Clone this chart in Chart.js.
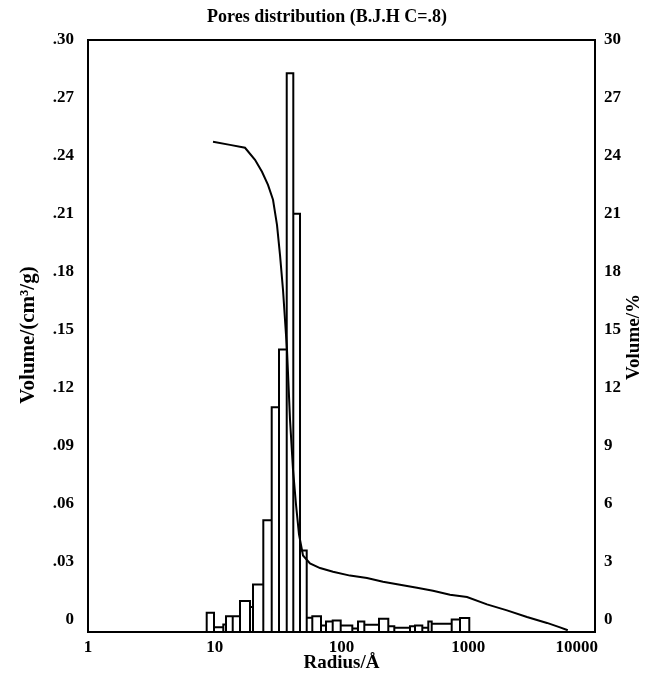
<!DOCTYPE html>
<html><head><meta charset="utf-8">
<script src="https://cdn.jsdelivr.net/npm/chart.js@4.4.1/dist/chart.umd.min.js"></script>
<style>html,body{margin:0;padding:0;background:#fff}</style>
</head><body>
<canvas id="c" width="654" height="676"></canvas>
<script>
// ---- data ----
const binEdges = [8.64, 9.87, 11.68, 12.27, 13.86, 15.82, 18.97, 20.04, 24.16, 28.14, 32.13, 36.97, 41.66, 47.06, 53.15, 58.84, 68.92, 75.45, 85.22, 98.56, 121.7, 134.9, 151.4, 197.6, 234.0, 261.0, 347.1, 380.2, 434.0, 484.0, 514.8, 740.3, 860.7, 1019];
const binVolume = [0.0035, -0.0040, -0.0026, 0.0017, 0.0017, 0.0095, 0.0064, 0.0181, 0.0514, 0.1098, 0.1397, 0.2828, 0.2100, 0.0357, 0.0009, 0.0017, -0.0031, -0.0010, -0.0005, -0.0031, -0.0047, -0.0010, -0.0027, 0.0004, -0.0035, -0.0043, -0.0035, -0.0031, -0.0043, -0.0010, -0.0022, 0.0000, 0.0008];
const curveRadius = [9.69, 13.19, 17.33, 20.78, 23.59, 26.31, 28.82, 30.98, 32.72, 34.55, 35.83, 37.15, 39.24, 41.44, 43.75, 46.2, 49.7, 56.4, 67.7, 85.7, 116.7, 158.9, 212.5, 289.4, 394.1, 527.2, 717.8, 977.5, 1406, 2022, 2907, 4181, 5297, 6100];
const curvePercent = [24.73, 24.57, 24.42, 23.80, 23.18, 22.50, 21.73, 20.43, 18.88, 17.07, 15.52, 13.97, 10.35, 7.76, 5.95, 4.40, 3.31, 2.90, 2.66, 2.47, 2.27, 2.15, 1.95, 1.80, 1.64, 1.49, 1.28, 1.16, 0.78, 0.47, 0.13, -0.18, -0.41, -0.56];
const xTicks = [1, 10, 100, 1000, 10000];
const yTicks = [0, 0.03, 0.06, 0.09, 0.12, 0.15, 0.18, 0.21, 0.24, 0.27, 0.30];
const y1Ticks = [0, 3, 6, 9, 12, 15, 18, 21, 24, 27, 30];
const yRange = [-0.0065, 0.30];
const y1Range = [-0.65, 30];

const titleText = 'Pores distribution (B.J.H C=.8)';
const xTitle = 'Radius/Å';
const yTitle = 'Volume/(cm³/g)';
const y1Title = 'Volume/%';

// ---- build datasets ----
const histPts = [];
for (let i = 0; i < binVolume.length; i++) {
  const x0 = binEdges[i], x1 = binEdges[i + 1], v = binVolume[i];
  histPts.push({x: x0, y: yRange[0]}, {x: x0, y: v}, {x: x1, y: v}, {x: x1, y: yRange[0]});
}
const curvePts = curveRadius.map((r, i) => ({x: r, y: curvePercent[i]}));

const FONT = 'Liberation Serif, Times New Roman, serif';
const tickFont = {family: FONT, size: 17, weight: 'bold'};

const framePlugin = {
  id: 'frame',
  beforeDraw(chart) {
    const xs = chart.scales.x;
    const items = xs.getLabelItems();
    const last = items[items.length - 1];
    if (last && last.label === '10000') {
      last.options.textAlign = 'right';
      last.options.translation = [xs.right + 3, last.options.translation[1]];
    }
  },
  afterDraw(chart) {
    const {ctx, chartArea: a} = chart;
    ctx.save();
    ctx.strokeStyle = '#000';
    ctx.lineWidth = 2;
    ctx.strokeRect(a.left, a.top, a.right - a.left, a.bottom - a.top);
    ctx.fillStyle = '#000';
    ctx.textAlign = 'center';
    ctx.textBaseline = 'middle';
    const cy = (a.top + a.bottom) / 2;
    ctx.font = 'bold 19px ' + FONT;
    ctx.fillText(xTitle, (a.left + a.right) / 2, 663);
    ctx.save(); ctx.translate(634, cy + 1); ctx.rotate(-Math.PI / 2); ctx.fillText(y1Title, 0, 0); ctx.restore();
    ctx.font = 'bold 21px ' + FONT;
    ctx.save(); ctx.translate(29, cy - 1); ctx.rotate(-Math.PI / 2); ctx.fillText(yTitle, 0, 0); ctx.restore();
    ctx.restore();
  }
};

new Chart(document.getElementById('c'), {
  type: 'scatter',
  data: {
    datasets: [
      {label: 'Volume', data: histPts, showLine: true, borderColor: '#000', borderWidth: 2, pointRadius: 0, tension: 0, fill: false, yAxisID: 'y', clip: 4, order: 2},
      {label: 'Cumulative', data: curvePts, showLine: true, borderColor: '#000', borderWidth: 2, pointRadius: 0, tension: 0, fill: false, yAxisID: 'y1', clip: 4, order: 1}
    ]
  },
  options: {
    responsive: false,
    animation: false,
    devicePixelRatio: 1,
    layout: {padding: 0},
    plugins: {
      legend: {display: false},
      tooltip: {enabled: false},
      title: {display: true, text: titleText, color: '#000', font: {family: FONT, size: 18, weight: 'bold'}, padding: {top: 7, bottom: 11.4}, fullSize: true}
    },
    scales: {
      x: {
        type: 'logarithmic', position: 'bottom', min: 1, max: 10000,
        grid: {display: false, drawTicks: false}, border: {display: false},
        ticks: {color: '#000', font: tickFont, padding: 5, maxRotation: 0, autoSkip: false, callback: v => String(v)},
        afterBuildTicks: s => { s.ticks = xTicks.map(v => ({value: v})); },
        afterFit: s => { s.height = 44; }
      },
      y: {
        type: 'linear', position: 'left', min: yRange[0], max: yRange[1],
        grid: {display: false, drawTicks: false}, border: {display: false},
        ticks: {color: '#000', font: tickFont, padding: 14, callback: v => (Math.abs(v) < 1e-9 ? '0' : '.' + String(Math.round(v * 100)).padStart(2, '0'))},
        afterBuildTicks: s => { s.ticks = yTicks.map(v => ({value: v})); },
        afterFit: s => { s.width = 88; }
      },
      y1: {
        type: 'linear', position: 'right', min: y1Range[0], max: y1Range[1],
        grid: {display: false, drawTicks: false}, border: {display: false},
        ticks: {color: '#000', font: tickFont, padding: 9, callback: v => String(Math.round(v))},
        afterBuildTicks: s => { s.ticks = y1Ticks.map(v => ({value: v})); },
        afterFit: s => { s.width = 59; }
      }
    }
  },
  plugins: [framePlugin]
});
</script>
</body></html>
